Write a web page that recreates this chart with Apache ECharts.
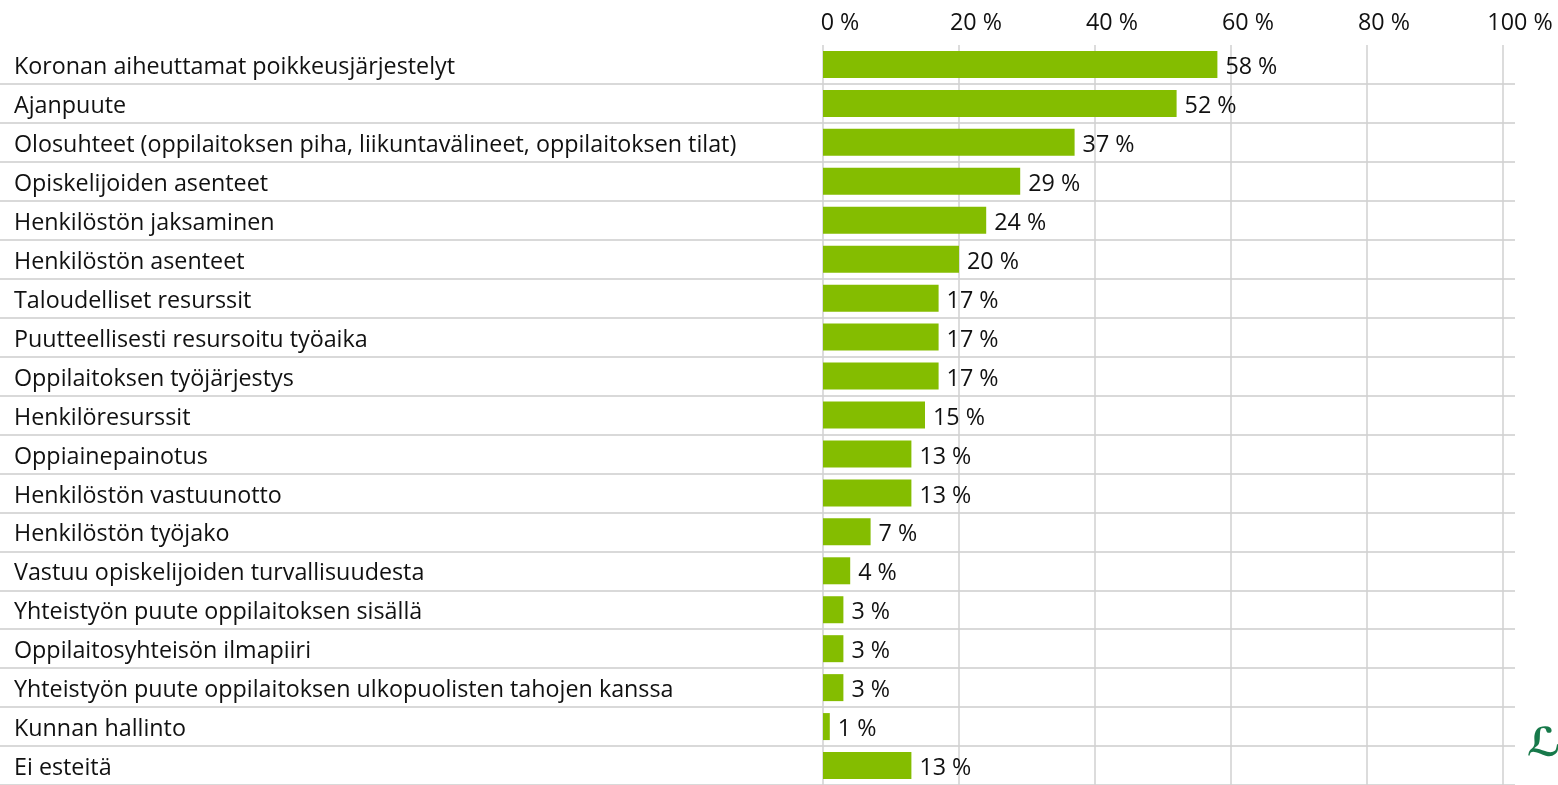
<!DOCTYPE html>
<html>
<head>
<meta charset="utf-8">
<script src="https://cdn.jsdelivr.net/npm/echarts@6/dist/echarts.min.js"></script>
<style>
html,body{margin:0;padding:0;background:#fff;}
#chart{width:1558px;height:785px;}
</style>
</head>
<body>
<div id="chart"></div>
<script>
const categories = [
  "Koronan aiheuttamat poikkeusjärjestelyt",
  "Ajanpuute",
  "Olosuhteet (oppilaitoksen piha, liikuntavälineet, oppilaitoksen tilat)",
  "Opiskelijoiden asenteet",
  "Henkilöstön jaksaminen",
  "Henkilöstön asenteet",
  "Taloudelliset resurssit",
  "Puutteellisesti resursoitu työaika",
  "Oppilaitoksen työjärjestys",
  "Henkilöresurssit",
  "Oppiainepainotus",
  "Henkilöstön vastuunotto",
  "Henkilöstön työjako",
  "Vastuu opiskelijoiden turvallisuudesta",
  "Yhteistyön puute oppilaitoksen sisällä",
  "Oppilaitosyhteisön ilmapiiri",
  "Yhteistyön puute oppilaitoksen ulkopuolisten tahojen kanssa",
  "Kunnan hallinto",
  "Ei esteitä"
];
const values = [58, 52, 37, 29, 24, 20, 17, 17, 17, 15, 13, 13, 7, 4, 3, 3, 3, 1, 13];
const tickValues = [0, 20, 40, 60, 80, 100];

const FONT = 'Open Sans';
const FS = 23.3;
const chart = echarts.init(document.getElementById('chart'), null, {renderer: 'canvas'});
chart.setOption({
  animation: false,
  backgroundColor: '#ffffff',
  textStyle: {fontFamily: FONT},
  grid: [
    {left: 823, right: 55, top: 45, height: 741, containLabel: false},
    {left: 0, right: 43, top: 45, height: 741, containLabel: false}
  ],
  xAxis: [
    {
      type: 'value', gridIndex: 0, position: 'top', min: 0, max: 100, interval: 20,
      axisLine: {show: false}, axisTick: {show: false},
      splitLine: {show: true, lineStyle: {color: '#d0d0d0', width: 1.5}},
      axisLabel: {
        fontFamily: FONT, fontSize: FS, color: '#111', margin: 10,
        padding: [0, 0, 0, 34],
        formatter: v => tickValues.indexOf(v) >= 0 ? v + ' %' : ''
      }
    },
    {
      type: 'value', gridIndex: 1, min: 0, max: 1, show: false
    }
  ],
  yAxis: [
    {
      type: 'category', gridIndex: 0, data: categories, inverse: true,
      axisLine: {show: false}, axisTick: {show: false}, splitLine: {show: false},
      axisLabel: {
        align: 'left', margin: 809,
        formatter: v => '{t|' + v + '}',
        rich: {
          t: {fontFamily: FONT, fontSize: FS, color: '#111', padding: [6, 0, 0, 0]}
        }
      }
    },
    {
      type: 'category', gridIndex: 1, data: categories, inverse: true,
      axisLine: {show: false}, axisTick: {show: false}, axisLabel: {show: false},
      splitLine: {show: true, interval: (i) => i > 0, lineStyle: {color: '#d9d9d9', width: 2}}
    }
  ],
  series: [
    {
      type: 'bar', xAxisIndex: 0, yAxisIndex: 0, data: values,
      barWidth: 27,
      itemStyle: {color: '#84bd00'},
      label: {
        show: true, position: 'right', distance: 8, offset: [0, 3],
        fontFamily: FONT, fontSize: FS, color: '#111',
        formatter: p => p.value + ' %'
      }
    }
  ],
  graphic: [
    {
      type: 'text', right: -3, top: 726,
      style: {text: 'ℒ', fontSize: 40, fill: '#17794a', fontFamily: 'DejaVu Sans', fontWeight: 'bold'}
    }
  ]
});
</script>
</body>
</html>
